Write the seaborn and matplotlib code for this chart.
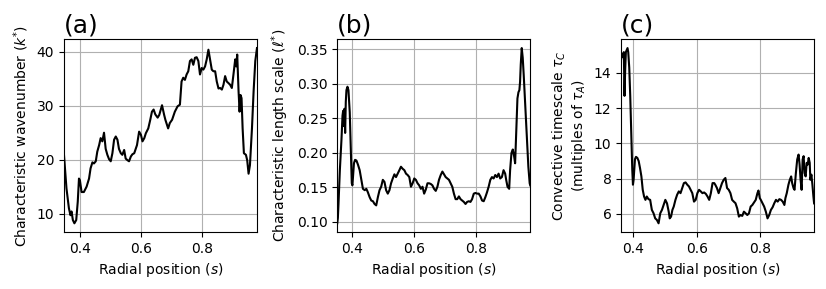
import matplotlib
matplotlib.use("Agg")
import matplotlib.pyplot as plt
import seaborn as sns

# (a) characteristic wavenumber k* vs radial position s
s_a = [0.348, 0.356, 0.364, 0.369, 0.3726, 0.377, 0.382, 0.388, 0.393, 0.397,
       0.400, 0.4055, 0.413, 0.422, 0.430, 0.435, 0.441, 0.446, 0.452, 0.457,
       0.463, 0.468, 0.4735, 0.479, 0.4845, 0.490, 0.4955, 0.501, 0.5065, 0.512,
       0.5175, 0.523, 0.528, 0.534, 0.539, 0.545, 0.550, 0.556, 0.561, 0.567,
       0.572, 0.578, 0.587, 0.594, 0.600, 0.605, 0.611, 0.616, 0.624, 0.6305,
       0.636, 0.6415, 0.647, 0.6547, 0.660, 0.669, 0.676, 0.680, 0.689, 0.6946,
       0.702, 0.711, 0.720, 0.7276, 0.733, 0.7385, 0.744, 0.7495, 0.755, 0.7605,
       0.766, 0.7715, 0.777, 0.7824, 0.788, 0.7934, 0.799, 0.8044, 0.810, 0.8154,
       0.821, 0.8263, 0.832, 0.8373, 0.843, 0.8483, 0.854, 0.8593, 0.865, 0.8703,
       0.8757, 0.881, 0.8867, 0.892, 0.8977, 0.903, 0.9087, 0.912, 0.9153, 0.9197,
       0.923, 0.9262, 0.9295, 0.933, 0.9372, 0.9438, 0.948, 0.9525, 0.957, 0.9636,
       0.969, 0.9745, 0.980]
k_a = [20.8, 14.7, 11.0, 9.7, 10.4, 8.8, 8.2, 8.8, 12.2, 16.5,
       16.2, 14.0, 14.0, 15.0, 16.5, 18.4, 19.5, 19.3, 19.7, 21.5,
       22.7, 24.0, 23.4, 25.0, 22.0, 20.9, 20.1, 19.7, 21.2, 23.7,
       24.3, 23.7, 22.0, 21.2, 20.9, 21.8, 20.2, 19.9, 19.7, 20.6,
       21.0, 21.2, 22.7, 25.2, 24.6, 23.4, 24.0, 24.9, 25.8, 27.4,
       28.9, 29.3, 28.4, 27.8, 28.3, 30.1, 28.3, 27.4, 25.8, 26.8,
       27.4, 28.9, 29.9, 30.2, 34.5, 35.2, 34.8, 35.8, 36.4, 38.3,
       38.6, 37.6, 38.9, 39.0, 38.3, 35.8, 37.0, 36.7, 37.3, 38.6,
       40.4, 38.6, 36.7, 36.4, 36.4, 34.5, 33.2, 33.3, 33.0, 33.9,
       35.5, 34.5, 34.2, 33.9, 33.3, 35.8, 38.6, 37.3, 39.5, 32.7,
       28.9, 32.0, 31.4, 25.8, 21.2, 20.9, 19.9, 17.4, 19.0, 25.8,
       32.7, 38.3, 40.7]

# (b) characteristic length scale l*
s_b = [0.351, 0.353, 0.355, 0.3594, 0.3647, 0.368, 0.370, 0.372, 0.3743, 0.3765,
       0.3786, 0.3807, 0.384, 0.3872, 0.3914, 0.3947, 0.398, 0.400, 0.402, 0.405,
       0.4086, 0.413, 0.418, 0.4235, 0.429, 0.434, 0.440, 0.445, 0.450, 0.4556,
       0.461, 0.4663, 0.4717, 0.477, 0.4824, 0.4877, 0.493, 0.4984, 0.5037, 0.509,
       0.5144, 0.5198, 0.525, 0.5305, 0.5358, 0.541, 0.5465, 0.5519, 0.557, 0.5626,
       0.568, 0.5733, 0.5786, 0.584, 0.5893, 0.5947, 0.600, 0.6053, 0.6107, 0.616,
       0.6214, 0.6267, 0.632, 0.6374, 0.6428, 0.648, 0.6535, 0.6588, 0.664, 0.6695,
       0.6749, 0.680, 0.6856, 0.691, 0.6963, 0.7016, 0.707, 0.7123, 0.7176, 0.723,
       0.7283, 0.7337, 0.739, 0.7444, 0.7497, 0.755, 0.7604, 0.7658, 0.771, 0.7765,
       0.7818, 0.787, 0.7925, 0.798, 0.8032, 0.8086, 0.814, 0.8193, 0.8246, 0.830,
       0.8353, 0.8406, 0.846, 0.8513, 0.8567, 0.862, 0.8674, 0.8727, 0.878, 0.8834,
       0.8888, 0.894, 0.8973, 0.9016, 0.907, 0.910, 0.9144, 0.9187, 0.923, 0.9262,
       0.9294, 0.9337, 0.937, 0.940, 0.9422, 0.9444, 0.9476, 0.9508, 0.954, 0.9583,
       0.9636, 0.969, 0.9733, 0.975]
l_b = [0.098, 0.106, 0.126, 0.175, 0.220, 0.254, 0.261, 0.239, 0.264, 0.229,
       0.274, 0.291, 0.296, 0.291, 0.259, 0.205, 0.156, 0.153, 0.165, 0.185,
       0.190, 0.189, 0.183, 0.175, 0.161, 0.148, 0.146, 0.148, 0.143, 0.136,
       0.131, 0.130, 0.126, 0.124, 0.136, 0.146, 0.151, 0.161, 0.158, 0.146,
       0.141, 0.146, 0.156, 0.163, 0.169, 0.165, 0.170, 0.175, 0.180, 0.177,
       0.175, 0.170, 0.168, 0.165, 0.151, 0.156, 0.163, 0.161, 0.156, 0.153,
       0.148, 0.151, 0.141, 0.147, 0.156, 0.156, 0.155, 0.153, 0.148, 0.145,
       0.151, 0.161, 0.168, 0.173, 0.169, 0.165, 0.163, 0.161, 0.156, 0.151,
       0.141, 0.133, 0.133, 0.137, 0.133, 0.131, 0.129, 0.126, 0.129, 0.130,
       0.129, 0.133, 0.141, 0.142, 0.141, 0.141, 0.137, 0.131, 0.130, 0.136,
       0.143, 0.151, 0.161, 0.165, 0.163, 0.168, 0.165, 0.170, 0.163, 0.165,
       0.175, 0.170, 0.161, 0.151, 0.148, 0.175, 0.200, 0.205, 0.195, 0.185,
       0.225, 0.279, 0.288, 0.291, 0.303, 0.328, 0.352, 0.338, 0.313, 0.274,
       0.225, 0.180, 0.156, 0.153]

# (c) convective timescale tau_C in multiples of tau_A
s_c = [0.363, 0.3661, 0.3693, 0.3714, 0.3735, 0.3757, 0.3778, 0.3799, 0.383, 0.3852,
       0.3884, 0.3915, 0.3947, 0.3979, 0.400, 0.4021, 0.4042, 0.4063, 0.4095, 0.4138,
       0.418, 0.4222, 0.4265, 0.4307, 0.4349, 0.4392, 0.4434, 0.4487, 0.454, 0.4593,
       0.4646, 0.4698, 0.4751, 0.4804, 0.4857, 0.491, 0.4963, 0.5016, 0.5069, 0.5122,
       0.5153, 0.5196, 0.5238, 0.528, 0.5333, 0.5386, 0.5439, 0.5492, 0.5545, 0.5598,
       0.5651, 0.5704, 0.5757, 0.581, 0.5862, 0.5915, 0.5968, 0.6021, 0.6074, 0.6127,
       0.618, 0.6233, 0.6286, 0.6339, 0.6392, 0.6444, 0.6497, 0.655, 0.6582, 0.6635,
       0.6688, 0.6741, 0.6794, 0.6847, 0.690, 0.6952, 0.7005, 0.7058, 0.7111, 0.7164,
       0.7217, 0.727, 0.7323, 0.7376, 0.7429, 0.7481, 0.7534, 0.7587, 0.764, 0.7693,
       0.7746, 0.7799, 0.7852, 0.7905, 0.7937, 0.7979, 0.8011, 0.8063, 0.8116, 0.8169,
       0.8222, 0.8275, 0.8328, 0.8381, 0.8434, 0.8487, 0.854, 0.8593, 0.8646, 0.8698,
       0.8751, 0.8783, 0.8825, 0.8878, 0.8921, 0.8963, 0.8995, 0.9037, 0.9069, 0.9111,
       0.9153, 0.9196, 0.9228, 0.9259, 0.9291, 0.9323, 0.9354, 0.9386, 0.9418, 0.945,
       0.9481, 0.9513, 0.9545, 0.9566, 0.9598, 0.963, 0.9661, 0.9683]
tau_c = [14.8, 15.09, 14.9, 15.18, 12.7, 14.23, 15.18, 15.28, 15.41, 15.18,
         14.3, 12.7, 10.6, 8.5, 7.66, 7.94, 8.5, 9.1, 9.24, 9.18,
         9.0, 8.6, 8.13, 7.37, 6.99, 6.8, 6.99, 6.84, 6.8, 6.23,
         6.04, 5.75, 5.66, 5.47, 6.04, 6.23, 6.51, 6.8, 6.6, 6.13,
         5.75, 5.85, 6.23, 6.42, 6.8, 7.09, 7.28, 7.18, 7.47, 7.75,
         7.79, 7.66, 7.56, 7.37, 7.18, 6.7, 6.8, 7.18, 7.37, 7.28,
         7.18, 7.22, 7.14, 6.99, 6.8, 7.18, 7.75, 7.75, 7.66, 7.47,
         7.18, 7.47, 7.75, 7.94, 8.04, 7.47, 7.37, 7.18, 6.8, 6.7,
         6.61, 6.32, 5.85, 5.94, 5.89, 6.13, 6.04, 5.94, 6.04, 6.42,
         6.51, 6.65, 6.8, 7.18, 7.33, 6.9, 6.8, 6.61, 6.42, 6.13,
         5.75, 5.94, 6.23, 6.38, 6.61, 6.8, 6.7, 6.84, 6.8, 6.7,
         6.51, 6.9, 7.18, 7.66, 7.94, 8.13, 7.75, 7.47, 7.37, 8.32,
         9.09, 9.37, 8.8, 7.94, 7.37, 9.09, 9.28, 8.32, 8.13, 8.9,
         8.8, 9.18, 8.9, 7.94, 8.23, 7.66, 6.99, 6.6]

panels = [
    (s_a, k_a, "(a)", r"Characteristic wavenumber ($k^{*}$)"),
    (s_b, l_b, "(b)", r"Characteristic length scale ($\ell^{*}$)"),
    (s_c, tau_c, "(c)", "Convective timescale $\\tau_C$\n(multiples of $\\tau_A$)"),
]
lefts = [0.0775, 0.4083, 0.752]

fig = plt.figure(figsize=(8.26, 2.89), dpi=100)
for left, (x, y, tag, ylab) in zip(lefts, panels):
    ax = fig.add_axes([left, 0.197, 0.2336, 0.667])
    sns.lineplot(x=x, y=y, ax=ax, color="black", linewidth=1.5)
    ax.set_xlim(min(x), max(x))
    ax.grid(True)
    ax.set_axisbelow(True)
    ax.set_title(tag, loc="left", fontsize=18, pad=5)
    ax.set_xlabel("Radial position ($s$)")
    ax.set_ylabel(ylab)

fig.savefig("out.png", dpi=100)
